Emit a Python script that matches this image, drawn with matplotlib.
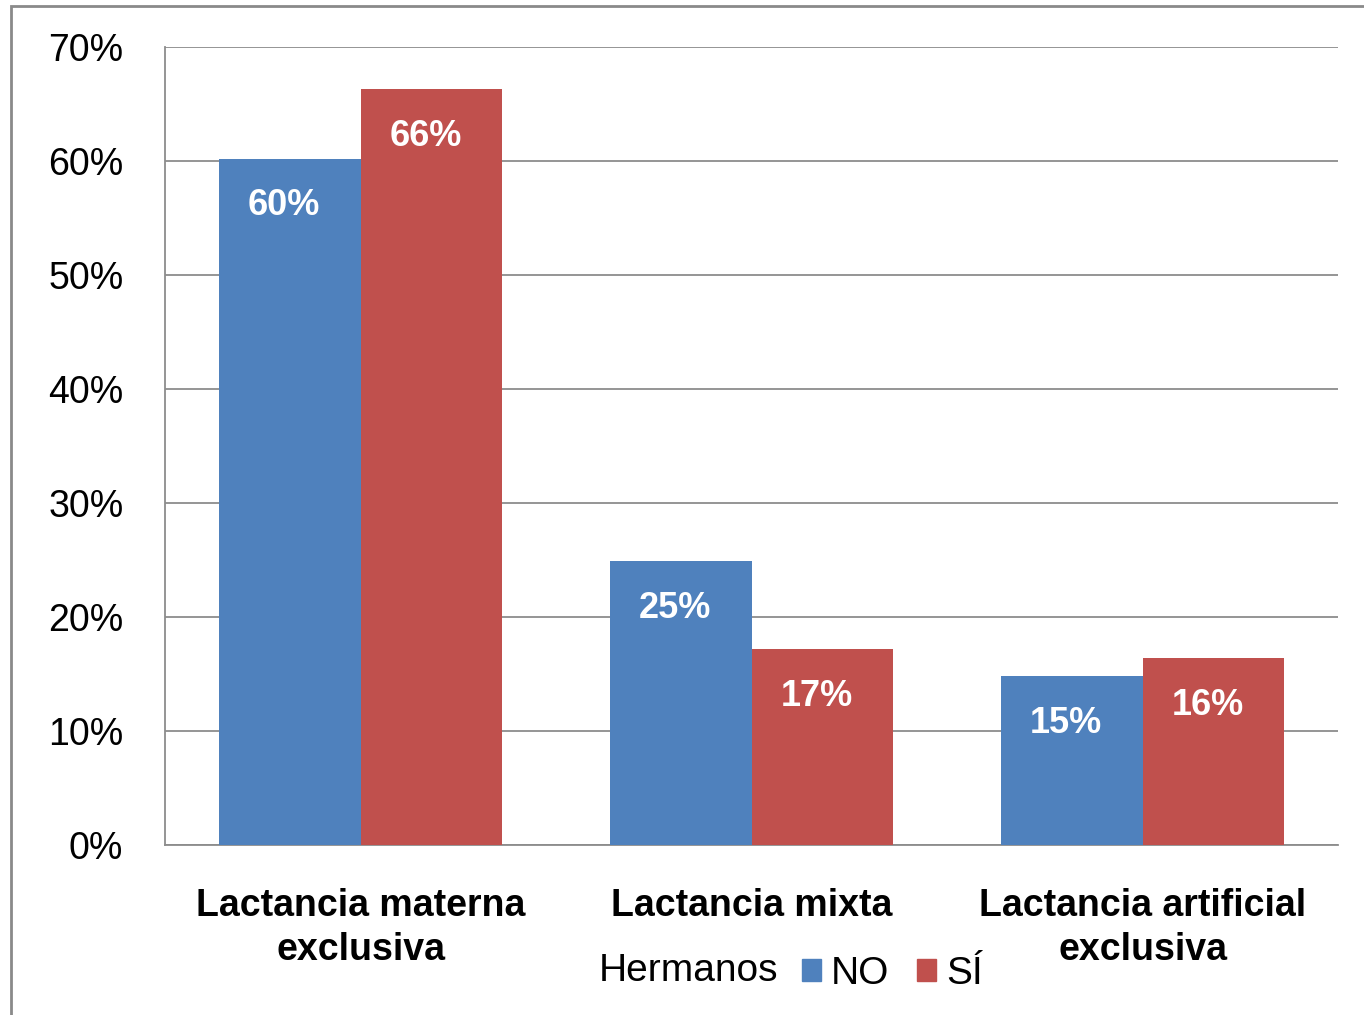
import matplotlib
matplotlib.use("Agg")
import matplotlib.pyplot as plt
import numpy as np
from matplotlib.patches import Patch, Rectangle

plt.rcParams['font.family'] = ['Liberation Sans', 'DejaVu Sans']

categories = ["Lactancia materna\nexclusiva", "Lactancia mixta", "Lactancia artificial\nexclusiva"]
series_names = ["NO", "SÍ"]
values_no = [60.2, 24.9, 14.8]
values_si = [66.3, 17.2, 16.4]
colors = ["#4F81BD", "#C0504D"]
yticks = [0, 10, 20, 30, 40, 50, 60, 70]

W, H = 1364, 1015
fig = plt.figure(figsize=(W / 100, H / 100), dpi=100)
ax = fig.add_axes([165 / W, 1 - 845 / H, (1338 - 165) / W, (845 - 47) / H])

x = np.arange(len(categories))
bw = 0.363
b1 = ax.bar(x - bw / 2, values_no, bw, color=colors[0], label=series_names[0], zorder=3)
b2 = ax.bar(x + bw / 2, values_si, bw, color=colors[1], label=series_names[1], zorder=3)

for bars in (b1, b2):
    for rect in bars:
        v = rect.get_height()
        ax.annotate(f"{round(v):d}%", (rect.get_x() + rect.get_width() / 2 - 0.015, v),
                    xytext=(0, -34), textcoords="offset points",
                    ha="center", va="center", color="white", fontsize=26,
                    fontweight="bold", zorder=4)

ax.set_xlim(-0.5, 2.5)
ax.set_ylim(0, 70)
ax.set_yticks(yticks)
ax.set_yticklabels([f"{t}%" for t in yticks], fontsize=27)
ax.set_xticks(x)
ax.set_xticklabels(categories, fontsize=27, fontweight="bold", linespacing=1.3)
ax.tick_params(axis="y", length=0, pad=30)
ax.tick_params(axis="x", length=0, pad=31)
ax.grid(axis="y", color="#8C8C8C", linewidth=1.3, zorder=0)
for s in ["top", "right"]:
    ax.spines[s].set_visible(False)
for s in ["left", "bottom"]:
    ax.spines[s].set_color("#8C8C8C")
    ax.spines[s].set_linewidth(1.3)

# legend
handles = [Patch(color=colors[0]), Patch(color=colors[1])]
leg = fig.legend(handles, series_names, loc="center left",
                 bbox_to_anchor=(802 / W, 1 - 974 / H), ncol=2, frameon=False,
                 fontsize=28, handlelength=0.5, handleheight=0.5,
                 handletextpad=0.25, columnspacing=0.7, borderpad=0, borderaxespad=0)
fig.text(689 / W, 1 - 971 / H, "Hermanos", fontsize=28, ha="center", va="center")

# outer frame
fig.patches.append(Rectangle((11 / W, -0.1), 1.2, 1.1 - 6 / H, transform=fig.transFigure,
                             fill=False, edgecolor="#8A8A8A", linewidth=2))

fig.savefig("out.png", dpi=100)
